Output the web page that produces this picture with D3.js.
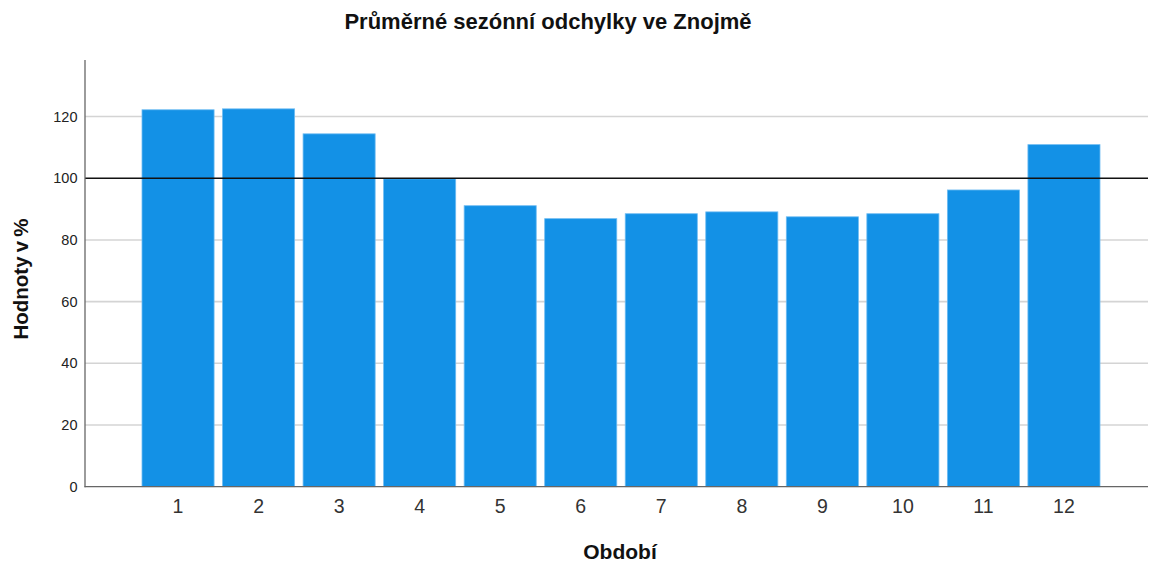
<!DOCTYPE html>
<html>
<head>
<meta charset="utf-8">
<script src="https://cdn.jsdelivr.net/npm/d3@7"></script>
<style>
  body { margin: 0; background: #fff; }
  svg { display: block; font-family: "Liberation Sans", Arial, sans-serif; }
</style>
</head>
<body>
<svg id="chart"></svg>
<script>
// data
const periods = ["1", "2", "3", "4", "5", "6", "7", "8", "9", "10", "11", "12"];
const values = [122.2, 122.5, 114.4, 99.8, 91.1, 86.9, 88.5, 89.1, 87.5, 88.5, 96.2, 110.9];
const yTicks = [0, 20, 40, 60, 80, 100, 120];
const refValue = 100;

const width = 1150;
const height = 562;

const svg = d3.select("#chart").attr("width", width).attr("height", height);

const xScale = d3.scaleBand().domain(periods)
    .range([142, 1100])
    .paddingInner(0.105).paddingOuter(0);

const yScale = d3.scaleLinear().domain([0, 138.5])
    .range([486.7, 59.5]);

// gridlines
svg.append("g")
    .selectAll("line")
    .data(yTicks.filter(d => d > 0 && d !== refValue))
    .enter().append("line")
    .attr("x1", 85).attr("x2", 1148)
    .attr("y1", d => yScale(d)).attr("y2", d => yScale(d))
    .attr("stroke", "#d4d4d4").attr("stroke-width", 1.6);

// bars
svg.append("g")
    .selectAll("rect")
    .data(values)
    .enter().append("rect")
    .attr("x", (d, i) => xScale(periods[i]))
    .attr("y", d => yScale(d))
    .attr("width", xScale.bandwidth())
    .attr("height", d => yScale(0) - yScale(d))
    .attr("fill", "#1391e6")
    .attr("stroke", "#6fbcf2").attr("stroke-width", 0.8);

// reference line at 100
svg.append("line")
    .attr("x1", 85).attr("x2", 1148)
    .attr("y1", yScale(refValue)).attr("y2", yScale(refValue))
    .attr("stroke", "#111").attr("stroke-width", 1.6);

// y axis
const yAxis = d3.axisLeft(yScale).tickValues(yTicks).tickSize(0).tickPadding(7);
const gy = svg.append("g").attr("transform", "translate(84.5,0)").call(yAxis);
gy.select(".domain").attr("stroke", "#666").attr("stroke-width", 1.3);
gy.selectAll("text").attr("font-size", 14.5).attr("fill", "#222")
    .attr("font-family", "Liberation Sans, Arial, sans-serif");

// x axis
const xAxis = d3.axisBottom(xScale).tickSize(0).tickPadding(12);
const gx = svg.append("g").attr("transform", "translate(0,486.7)").call(xAxis);
gx.select(".domain").attr("d", "M84.5,0H1148").attr("stroke", "#666").attr("stroke-width", 1.3);
gx.selectAll("text").attr("font-size", 19.5).attr("fill", "#333")
    .attr("font-family", "Liberation Sans, Arial, sans-serif");

// title and axis labels
svg.append("text")
    .attr("x", 548).attr("y", 29)
    .attr("text-anchor", "middle")
    .attr("font-size", 22).attr("font-weight", "bold").attr("fill", "#111")
    .text("Průměrné sezónní odchylky ve Znojmě");

svg.append("text")
    .attr("x", 620).attr("y", 559)
    .attr("text-anchor", "middle")
    .attr("font-size", 21).attr("font-weight", "bold").attr("fill", "#111")
    .text("Období");

svg.append("text")
    .attr("transform", "translate(28,279) rotate(-90)")
    .attr("text-anchor", "middle")
    .attr("font-size", 20.5).attr("font-weight", "bold").attr("fill", "#111")
    .attr("word-spacing", -1.5)
    .text("Hodnoty v %");
</script>
</body>
</html>
